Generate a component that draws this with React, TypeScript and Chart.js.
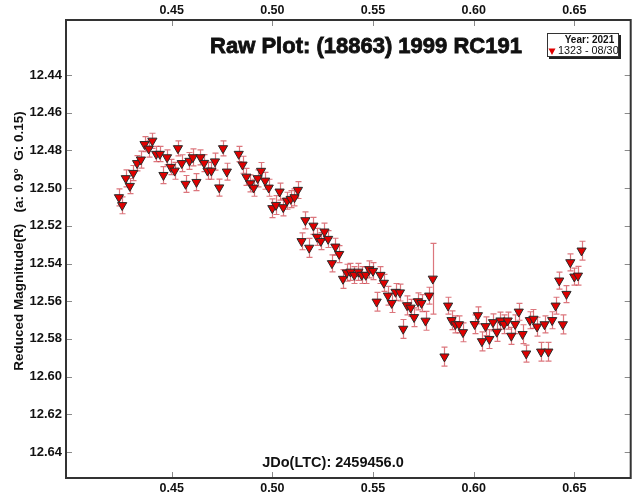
import React, { useEffect, useRef } from "react";
import { Chart, registerables } from "chart.js";

Chart.register(...registerables);

const FONT = '"Liberation Sans", Arial, sans-serif';

const chartTitle = "Raw Plot: (18863) 1999 RC191";
const xAxisTitle = "JDo(LTC): 2459456.0";
const yAxisTitle = "Reduced Magnitude(R)   (a: 0.9°  G: 0.15)";
const legendYear = "Year: 2021";
const legendSeries = "1323 - 08/30";

const xTicks = [0.45, 0.5, 0.55, 0.6, 0.65];
const yTicks = [12.44, 12.46, 12.48, 12.5, 12.52, 12.54, 12.56, 12.58, 12.6, 12.62, 12.64];
const xRange = [0.3975, 0.678];
const yRange = [12.4108, 12.6538];

const jdX = [
  0.4238, 0.4254, 0.4272, 0.4292, 0.4309, 0.4328, 0.4347, 0.4365, 0.4386, 0.4404,
  0.4423, 0.4441, 0.4459, 0.4477, 0.4495, 0.4515, 0.4531, 0.455, 0.4569, 0.4588,
  0.4605, 0.4623, 0.4643, 0.4661, 0.4678, 0.4697, 0.4715, 0.4736, 0.4755, 0.4774,
  0.4833, 0.4852, 0.4871, 0.489, 0.4907, 0.4927, 0.4944, 0.4964, 0.4982, 0.5,
  0.5018, 0.5036, 0.5054, 0.5073, 0.5091, 0.511, 0.5127, 0.5145, 0.5164, 0.5183,
  0.5204, 0.5222, 0.5241, 0.5259, 0.5277, 0.5296, 0.5313, 0.5332, 0.5351, 0.537,
  0.5388, 0.5407, 0.5427, 0.5444, 0.5464, 0.5482, 0.55, 0.5518, 0.5537, 0.5554,
  0.5574, 0.5593, 0.5612, 0.5634, 0.565, 0.5669, 0.5687, 0.5704, 0.5723, 0.5741,
  0.5761, 0.5779, 0.5797, 0.5855, 0.5873, 0.589, 0.5909, 0.5927, 0.5947, 0.6005,
  0.6021, 0.6041, 0.6059, 0.6078, 0.6096, 0.6115, 0.6133, 0.6151, 0.6169, 0.6187,
  0.6206, 0.6224, 0.6243, 0.6261, 0.6279, 0.6297, 0.6315, 0.6335, 0.6352, 0.6371,
  0.639, 0.6407, 0.6425, 0.6443, 0.6461, 0.648, 0.65, 0.6518, 0.6536,
];

const mag = [
  12.5049, 12.5091, 12.4948, 12.4989, 12.492, 12.4868, 12.4849, 12.4767, 12.4791, 12.4749,
  12.4819, 12.4819, 12.4931, 12.4837, 12.4888, 12.4908, 12.4789, 12.4868, 12.4978, 12.4856,
  12.4837, 12.4968, 12.4837, 12.4867, 12.4908, 12.4908, 12.4859, 12.4997, 12.4789, 12.4913,
  12.4819, 12.4876, 12.494, 12.4975, 12.4998, 12.4948, 12.4909, 12.4961, 12.4998, 12.5107,
  12.509, 12.5019, 12.5102, 12.5067, 12.5058, 12.5049, 12.501, 12.5282, 12.5171, 12.5317,
  12.52, 12.5259, 12.5281, 12.5231, 12.527, 12.5399, 12.5311, 12.535, 12.5482, 12.5449,
  12.5444, 12.5461, 12.5444, 12.5461, 12.5461, 12.5431, 12.544, 12.5603, 12.5461, 12.5503,
  12.5571, 12.561, 12.5551, 12.5554, 12.5747, 12.5622, 12.5635, 12.5685, 12.5601, 12.561,
  12.5704, 12.5571, 12.5481, 12.5894, 12.5624, 12.5701, 12.5723, 12.5723, 12.5765, 12.5722,
  12.5675, 12.5813, 12.5733, 12.5801, 12.5712, 12.5763, 12.5703, 12.5722, 12.5703, 12.5784,
  12.5722, 12.5656, 12.5775, 12.5878, 12.5701, 12.5694, 12.5735, 12.5868, 12.5723, 12.5868,
  12.5701, 12.5624, 12.5491, 12.5723, 12.5562, 12.5394, 12.547, 12.5465, 12.5332,
];

const magErr = [
  0.0045, 0.0045, 0.0045, 0.004, 0.004, 0.004, 0.0045, 0.004, 0.0045, 0.004,
  0.004, 0.004, 0.0045, 0.004, 0.004, 0.0045, 0.004, 0.0045, 0.0045, 0.0045,
  0.0045, 0.0045, 0.004, 0.0045, 0.0045, 0.0045, 0.0045, 0.0045, 0.004, 0.0045,
  0.004, 0.0045, 0.0045, 0.0045, 0.0045, 0.0045, 0.0045, 0.0045, 0.0045, 0.005,
  0.005, 0.0045, 0.0045, 0.0045, 0.0045, 0.0045, 0.0045, 0.0045, 0.0045, 0.005,
  0.0045, 0.0045, 0.0045, 0.0045, 0.0045, 0.0045, 0.0045, 0.0045, 0.005, 0.0045,
  0.0045, 0.0045, 0.0045, 0.0045, 0.0045, 0.0045, 0.0045, 0.005, 0.0045, 0.0045,
  0.005, 0.005, 0.0045, 0.0045, 0.005, 0.005, 0.0045, 0.005, 0.0045, 0.0045,
  0.005, 0.0045, 0.0188, 0.005, 0.0045, 0.005, 0.0045, 0.0045, 0.005, 0.005,
  0.0045, 0.005, 0.005, 0.005, 0.0045, 0.005, 0.0045, 0.005, 0.0045, 0.0045,
  0.005, 0.0045, 0.005, 0.0045, 0.0045, 0.005, 0.005, 0.005, 0.0045, 0.005,
  0.0045, 0.0045, 0.0045, 0.005, 0.0045, 0.0045, 0.0045, 0.005, 0.005,
];

const errorBarPlugin = {
  id: "errorBars",
  beforeDatasetsDraw(chart: any) {
    const { ctx, scales } = chart;
    const xs = scales.x;
    const ys = scales.y;
    ctx.save();
    ctx.strokeStyle = "rgba(205, 60, 70, 0.7)";
    ctx.lineWidth = 1.2;
    for (let i = 0; i < jdX.length; i++) {
      const px = Math.round(xs.getPixelForValue(jdX[i])) + 0.5;
      const y1 = ys.getPixelForValue(mag[i] - magErr[i]);
      const y2 = ys.getPixelForValue(mag[i] + magErr[i]);
      ctx.beginPath();
      ctx.moveTo(px, y1);
      ctx.lineTo(px, y2);
      ctx.moveTo(px - 3, y1);
      ctx.lineTo(px + 3, y1);
      ctx.moveTo(px - 3, y2);
      ctx.lineTo(px + 3, y2);
      ctx.stroke();
    }
    ctx.restore();
  },
};

const decorPlugin = {
  id: "decor",
  afterDraw(chart: any) {
    const { ctx, chartArea, scales } = chart;
    const { left, right, top, bottom } = chartArea;
    ctx.save();
    // inward tick marks
    ctx.strokeStyle = "#8a8a8a";
    ctx.lineWidth = 1;
    ctx.beginPath();
    for (const v of xTicks) {
      const px = Math.round(scales.x.getPixelForValue(v)) + 0.5;
      ctx.moveTo(px, top);
      ctx.lineTo(px, top + 6);
      ctx.moveTo(px, bottom);
      ctx.lineTo(px, bottom - 6);
    }
    for (const v of yTicks) {
      const py = Math.round(scales.y.getPixelForValue(v)) + 0.5;
      ctx.moveTo(left, py);
      ctx.lineTo(left + 6, py);
      ctx.moveTo(right, py);
      ctx.lineTo(right - 6, py);
    }
    ctx.stroke();
    // frame
    ctx.strokeStyle = "#333";
    ctx.lineWidth = 2;
    ctx.strokeRect(left, top, right - left, bottom - top);

    // title (heavier weight)
    ctx.fillStyle = "#111";
    ctx.strokeStyle = "#111";
    ctx.lineWidth = 0.8;
    ctx.textAlign = "center";
    ctx.textBaseline = "middle";
    ctx.font = `bold 22px ${FONT}`;
    ctx.fillText(chartTitle, 366, 47);
    ctx.strokeText(chartTitle, 366, 47);

    // x axis title inside plot
    ctx.font = `bold 14.5px ${FONT}`;
    ctx.fillText(xAxisTitle, 333, 463);

    // y axis title
    ctx.save();
    ctx.translate(19, 241);
    ctx.rotate(-Math.PI / 2);
    ctx.font = `bold 13.5px ${FONT}`;
    ctx.fillText(yAxisTitle, 0, 0);
    ctx.restore();

    // legend box
    const lx = 547, ly = 33, lw = 72, lh = 24;
    ctx.fillStyle = "#222";
    ctx.fillRect(lx + 2, ly + 2, lw, lh);
    ctx.fillStyle = "#fff";
    ctx.fillRect(lx, ly, lw, lh);
    ctx.strokeStyle = "#333";
    ctx.lineWidth = 1;
    ctx.strokeRect(lx + 0.5, ly + 0.5, lw - 1, lh - 1);
    ctx.fillStyle = "#111";
    ctx.font = `bold 10px ${FONT}`;
    ctx.textAlign = "center";
    ctx.fillText(legendYear, 589.5, 40);
    // legend marker
    ctx.fillStyle = "#e00000";
    ctx.beginPath();
    ctx.moveTo(548.5, 48.5);
    ctx.lineTo(555.5, 48.5);
    ctx.lineTo(552, 55);
    ctx.closePath();
    ctx.fill();
    ctx.fillStyle = "#111";
    ctx.font = `10.8px ${FONT}`;
    ctx.textAlign = "left";
    ctx.fillText(legendSeries, 558, 51.5);
    ctx.restore();
  },
};

export default function App() {
  const ref = useRef<HTMLCanvasElement | null>(null);

  useEffect(() => {
    document.body.style.margin = "0";
    const canvas = ref.current;
    if (!canvas) return;
    Chart.defaults.font.family = FONT;
    const tickFont = { family: FONT, weight: "bold" as const, size: 12.5 };
    const chart = new Chart(canvas, {
      type: "scatter",
      data: {
        datasets: [
          {
            label: legendSeries,
            data: jdX.map((x, i) => ({ x, y: mag[i] })),
            pointStyle: "triangle",
            rotation: 180,
            radius: 5.3,
            backgroundColor: "#e00000",
            borderColor: "#2a2a2a",
            borderWidth: 1,
          },
        ],
      },
      options: {
        responsive: false,
        animation: false,
        events: [],
        layout: { padding: { left: 0, right: 4, top: 0, bottom: 0 } },
        plugins: {
          legend: { display: false },
          tooltip: { enabled: false },
          title: { display: false },
        },
        scales: {
          x: {
            type: "linear",
            position: "bottom",
            min: xRange[0],
            max: xRange[1],
            afterBuildTicks: (s: any) => {
              s.ticks = xTicks.map((v) => ({ value: v }));
            },
            afterFit: (s: any) => {
              s.height = 19;
            },
            grid: { display: false, drawTicks: false },
            border: { display: false },
            ticks: {
              font: tickFont,
              color: "#111",
              padding: 3,
              maxRotation: 0,
              autoSkip: false,
              callback: (v: any) => Number(v).toFixed(2),
            },
          },
          x2: {
            type: "linear",
            position: "top",
            min: xRange[0],
            max: xRange[1],
            afterBuildTicks: (s: any) => {
              s.ticks = xTicks.map((v) => ({ value: v }));
            },
            afterFit: (s: any) => {
              s.height = 20;
            },
            grid: { display: false, drawTicks: false },
            border: { display: false },
            ticks: {
              font: tickFont,
              color: "#111",
              padding: 2,
              maxRotation: 0,
              autoSkip: false,
              callback: (v: any) => Number(v).toFixed(2),
            },
          },
          y: {
            type: "linear",
            position: "left",
            reverse: true,
            min: yRange[0],
            max: yRange[1],
            afterBuildTicks: (s: any) => {
              s.ticks = yTicks.map((v) => ({ value: v }));
            },
            afterFit: (s: any) => {
              s.width = 66;
            },
            grid: { display: false, drawTicks: false },
            border: { display: false },
            ticks: {
              font: { family: FONT, weight: "bold", size: 13 },
              color: "#111",
              padding: 4,
              autoSkip: false,
              callback: (v: any) => Number(v).toFixed(2),
            },
          },
        },
      },
      plugins: [errorBarPlugin, decorPlugin],
    });
    return () => chart.destroy();
  }, []);

  return (
    <div style={{ width: 637, height: 497, background: "#fff" }}>
      <canvas ref={ref} width={637} height={497} style={{ display: "block" }} />
    </div>
  );
}
